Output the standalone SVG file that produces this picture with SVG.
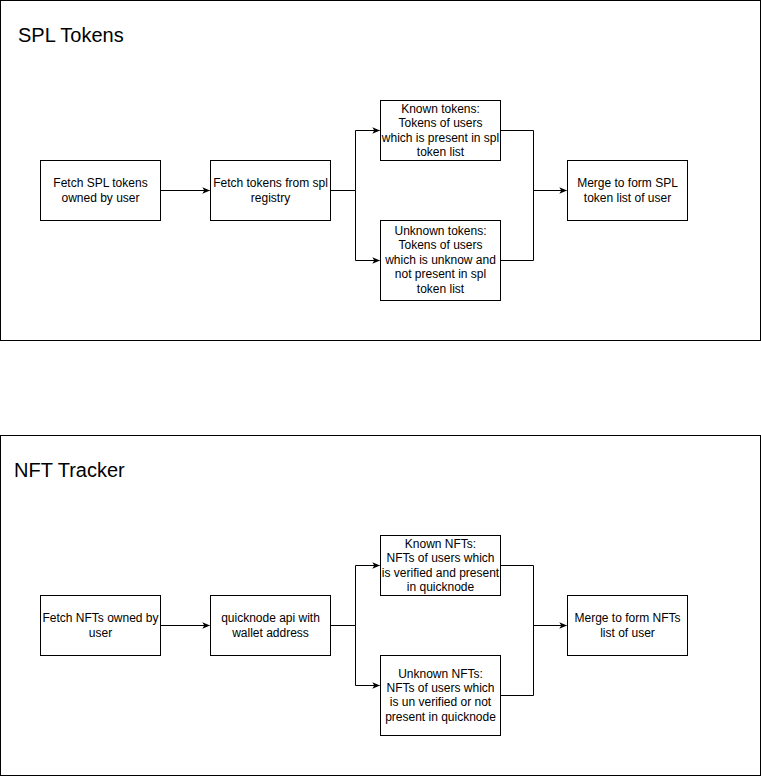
<svg xmlns="http://www.w3.org/2000/svg" width="761" height="776" viewBox="0 0 761 776">
<style>
.frame{fill:#fff;stroke:#000;stroke-width:1}
.box{fill:#fff;stroke:#000;stroke-width:1}
.t{font-family:"Liberation Sans",Arial,Helvetica,sans-serif;font-size:12px;fill:#000;text-anchor:middle}
.title{font-family:"Liberation Sans",Arial,Helvetica,sans-serif;font-size:20px;fill:#000}
.c{fill:none;stroke:#000;stroke-width:1}
</style>
<defs>
<marker id="arr" viewBox="0 0 10 10" refX="9" refY="5" markerWidth="8" markerHeight="8" markerUnits="userSpaceOnUse" orient="auto">
<path d="M0,1 L10,5 L0,9 L2.5,5 Z" fill="#000"/>
</marker>
</defs>
<rect width="761" height="776" fill="#fff"/>
<g id="spl-frame">
<rect class="frame" x="0.5" y="0.5" width="760" height="340"/>
<text class="title" x="18" y="42">SPL Tokens</text>
</g>
<g id="nft-frame">
<rect class="frame" x="0.5" y="435.5" width="760" height="340"/>
<text class="title" x="14" y="477">NFT Tracker</text>
</g>
<g id="connectors">
<path class="c" d="M160.5,190.5 H209.5" marker-end="url(#arr)"/>
<path class="c" d="M330.5,190.5 H355.5 V130.5 H379.5" marker-end="url(#arr)"/>
<path class="c" d="M355.5,190.5 V260.5 H379.5" marker-end="url(#arr)"/>
<path class="c" d="M500.5,130.5 H533.5 V260.5 H500.5"/>
<path class="c" d="M533.5,190.5 H566.5" marker-end="url(#arr)"/>
<path class="c" d="M160.5,625.5 H209.5" marker-end="url(#arr)"/>
<path class="c" d="M330.5,625.5 H355.5 V565.5 H379.5" marker-end="url(#arr)"/>
<path class="c" d="M355.5,625.5 V685.5 H379.5" marker-end="url(#arr)"/>
<path class="c" d="M500.5,565.5 H533.5 V695.5 H500.5"/>
<path class="c" d="M533.5,625.5 H566.5" marker-end="url(#arr)"/>
</g>
<g id="fetch-spl">
<rect class="box" x="40.5" y="160.5" width="120" height="60"/>
<text class="t" x="100.5" y="187">Fetch SPL tokens</text>
<text class="t" x="100.5" y="201.5">owned by user</text>
</g>
<g id="fetch-registry">
<rect class="box" x="210.5" y="160.5" width="120" height="60"/>
<text class="t" x="270.5" y="187">Fetch tokens from spl</text>
<text class="t" x="270.5" y="201.5">registry</text>
</g>
<g id="known-tokens">
<rect class="box" x="380.5" y="100.5" width="120" height="60"/>
<text class="t" x="440.5" y="113">Known tokens:</text>
<text class="t" x="440.5" y="127.4">Tokens of users</text>
<text class="t" x="440.5" y="141.8">which is present in spl</text>
<text class="t" x="440.5" y="156.2">token list</text>
</g>
<g id="unknown-tokens">
<rect class="box" x="380.5" y="220.5" width="120" height="80"/>
<text class="t" x="440.5" y="235">Unknown tokens:</text>
<text class="t" x="440.5" y="249.4">Tokens of users</text>
<text class="t" x="440.5" y="263.8">which is unknow and</text>
<text class="t" x="440.5" y="278.2">not present in spl</text>
<text class="t" x="440.5" y="292.6">token list</text>
</g>
<g id="merge-spl">
<rect class="box" x="567.5" y="160.5" width="120" height="60"/>
<text class="t" x="627.5" y="187">Merge to form SPL</text>
<text class="t" x="627.5" y="201.5">token list of user</text>
</g>
<g id="fetch-nfts">
<rect class="box" x="40.5" y="595.5" width="120" height="60"/>
<text class="t" x="100.5" y="622">Fetch NFTs owned by</text>
<text class="t" x="100.5" y="636.5">user</text>
</g>
<g id="quicknode">
<rect class="box" x="210.5" y="595.5" width="120" height="60"/>
<text class="t" x="270.5" y="622">quicknode api with</text>
<text class="t" x="270.5" y="636.5">wallet address</text>
</g>
<g id="known-nfts">
<rect class="box" x="380.5" y="535.5" width="120" height="60"/>
<text class="t" x="440.5" y="548">Known NFTs:</text>
<text class="t" x="440.5" y="562.4">NFTs of users which</text>
<text class="t" x="440.5" y="576.8">is verified and present</text>
<text class="t" x="440.5" y="591.2">in quicknode</text>
</g>
<g id="unknown-nfts">
<rect class="box" x="380.5" y="655.5" width="120" height="80"/>
<text class="t" x="440.5" y="677.5">Unknown NFTs:</text>
<text class="t" x="440.5" y="691.9">NFTs of users which</text>
<text class="t" x="440.5" y="706.3">is un verified or not</text>
<text class="t" x="440.5" y="720.7">present in quicknode</text>
</g>
<g id="merge-nfts">
<rect class="box" x="567.5" y="595.5" width="120" height="60"/>
<text class="t" x="627.5" y="622">Merge to form NFTs</text>
<text class="t" x="627.5" y="636.5">list of user</text>
</g>
</svg>
